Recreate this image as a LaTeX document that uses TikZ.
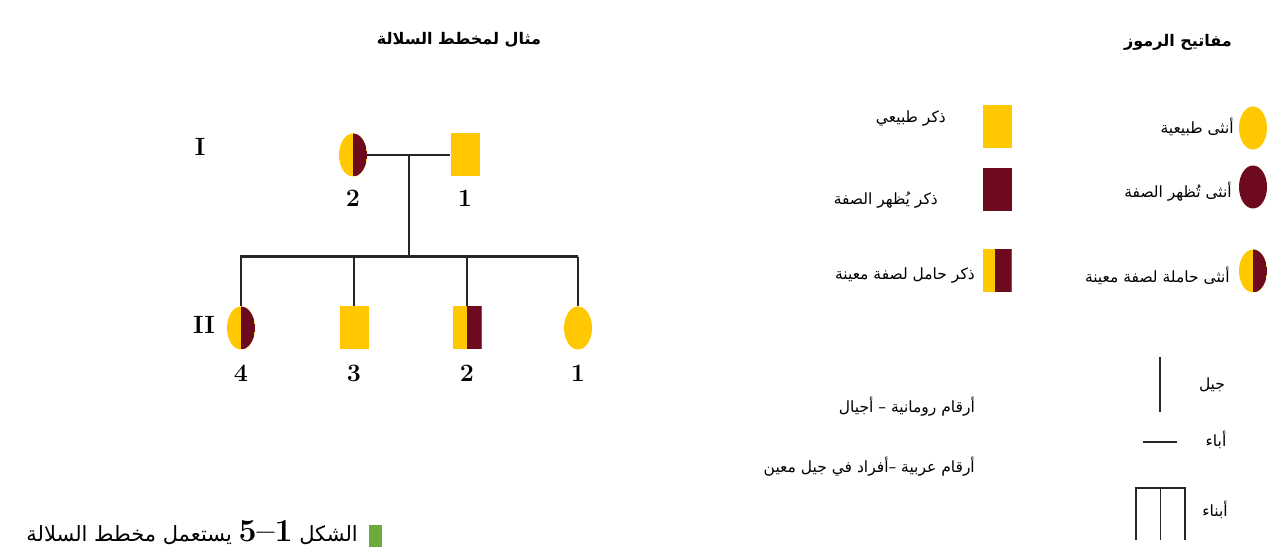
\documentclass[tikz,border=0pt]{standalone}
\usepackage{fontspec}
\usepackage{tikz}
\usetikzlibrary{calc,shapes.geometric}
\TeXXeTstate=1
\newfontfamily\arabicfont[Script=Arabic]{DejaVu Sans}
\definecolor{gold}{HTML}{FFC800}
\definecolor{maroon}{HTML}{6E0A1E}
\definecolor{leaf}{HTML}{6DAA3C}
\tikzset{
  fem/.style={ellipse,fill=gold,minimum width=28pt,minimum height=43pt,inner sep=0pt},
  mal/.style={rectangle,fill=gold,minimum width=29pt,minimum height=43pt,inner sep=0pt},
  aff/.style={fill=maroon},
  carrier/.style={path picture={\fill[maroon] ([xshift=#1]path picture bounding box.north) rectangle (path picture bounding box.south east);}},
  carrier/.default=0pt,
  pedline/.style={draw=black!85,line width=2.2pt},
  keyline/.style={draw=black!85,line width=1.6pt},
  num/.style={font=\fontsize{25}{25}\selectfont\bfseries,inner sep=0pt},
  lbl/.style={anchor=east,font=\fontsize{15.5}{17}\selectfont\arabicfont,inner sep=0pt},
  head/.style={font=\fontsize{16}{18}\selectfont\arabicfont\bfseries,inner sep=0pt},
}

\begin{document}
\begin{tikzpicture}[x=1pt,y=-1pt]
  \useasboundingbox (0,0) rectangle (1288,553);
  % Titles
  \node[head] (ttlPed) at (459,40) {\beginR مثال لمخطط السلالة\endR};
  \node[head] (ttlKey) at (1178,42) {\beginR مفاتيح الرموز\endR};
  % Generation labels
  \node[num] (genI) at (200,147) {I};
  \node[num] (genII) at (204,325) {II};
  % Generation I
  \node[fem,carrier] (fI2) at (353,155) {};
  \node[mal] (mI1) at (465,155) {};
  \node[num] (nI2) at (353,198) {2};
  \node[num] (nI1) at (465,198) {1};
  \draw[pedline] (fI2) -- coordinate (mate) (mI1);
  % Generation II
  \node[fem,carrier] (fII4) at (241,328) {};
  \node[mal] (mII3) at (354,328) {};
  \node[mal,carrier] (mII2) at (467,328) {};
  \node[fem] (fII1) at (578,328) {};
  \foreach \who/\n in {fII4/4,mII3/3,mII2/2,fII1/1}
    \node[num] (n\who) at (\who |- 0,373) {\n};
  % Sibship line and drops
  \coordinate (sibL) at (240,257);
  \coordinate (sibR) at (578,257);
  \draw[pedline,line width=3pt] (sibL) -- (sibR);
  \draw[pedline] (mate) -- (mate |- sibL);
  \foreach \who in {fII4,mII3,mII2,fII1}
    \draw[pedline] (\who.north |- sibL) -- (\who.north);
  % Key: symbols
  \node[fem] (kFn) at (1253,128) {};
  \node[fem,aff] (kFa) at (1253,187) {};
  \node[fem,carrier] (kFc) at (1253,271) {};
  \node[mal] (kMn) at (997,127) {};
  \node[mal,aff] (kMa) at (997,190) {};
  \node[mal,carrier=-2pt] (kMc) at (997,271) {};
  % Key: labels
  \node[lbl] (tFn) at (1234,127) {\beginR أنثى طبيعية\endR};
  \node[lbl] (tFa) at (1232,192) {\beginR أنثى تُظهر الصفة\endR};
  \node[lbl] (tFc) at (1230,276) {\beginR أنثى حاملة لصفة معينة\endR};
  \node[lbl] (tMn) at (946,119) {\beginR ذكر طبيعي\endR};
  \node[lbl] (tMa) at (938,200) {\beginR ذكر يُظهر الصفة\endR};
  \node[lbl] (tMc) at (975,276) {\beginR ذكر حامل لصفة معينة\endR};
  \node[lbl] (tRom) at (975,407) {\beginR أرقام رومانية – أجيال\endR};
  \node[lbl] (tAra) at (975,467) {\beginR أرقام عربية –أفراد في جيل معين\endR};
  % Key: lines
  \coordinate (gTop) at (1160,357);
  \coordinate (gBot) at (1160,412);
  \draw[keyline] (gTop) -- (gBot);
  \coordinate (pL) at (1143,442);
  \coordinate (pR) at (1177,442);
  \draw[keyline] (pL) -- (pR);
  \coordinate (oL) at (1136,488);
  \coordinate (oR) at (1185,488);
  \draw[keyline] (oL |- 0,540) -- (oL) -- (oR) -- (oR |- 0,540);
  \draw[keyline] ($(oL)!0.5!(oR)$) -- ++(0,52);
  \node[lbl,anchor=center] (tGen) at (1212,385) {\beginR جيل\endR};
  \node[lbl,anchor=center] (tPar) at (1216,440) {\beginR أباء\endR};
  \node[lbl,anchor=center] (tOff) at (1215,510) {\beginR أبناء\endR};
  % Caption
  \node[fill=leaf,minimum width=13pt,minimum height=22pt,inner sep=0pt] (cBox) at (375,536) {};
  \node[anchor=east,inner sep=0pt,font=\fontsize{21}{22}\selectfont\arabicfont] (cap) at (358,533)
    {\beginR الشكل \beginL{\rmfamily\bfseries\fontsize{32}{32}\selectfont 5–1}\endL\ يستعمل مخطط السلالة\endR};
\end{tikzpicture}
\end{document}
